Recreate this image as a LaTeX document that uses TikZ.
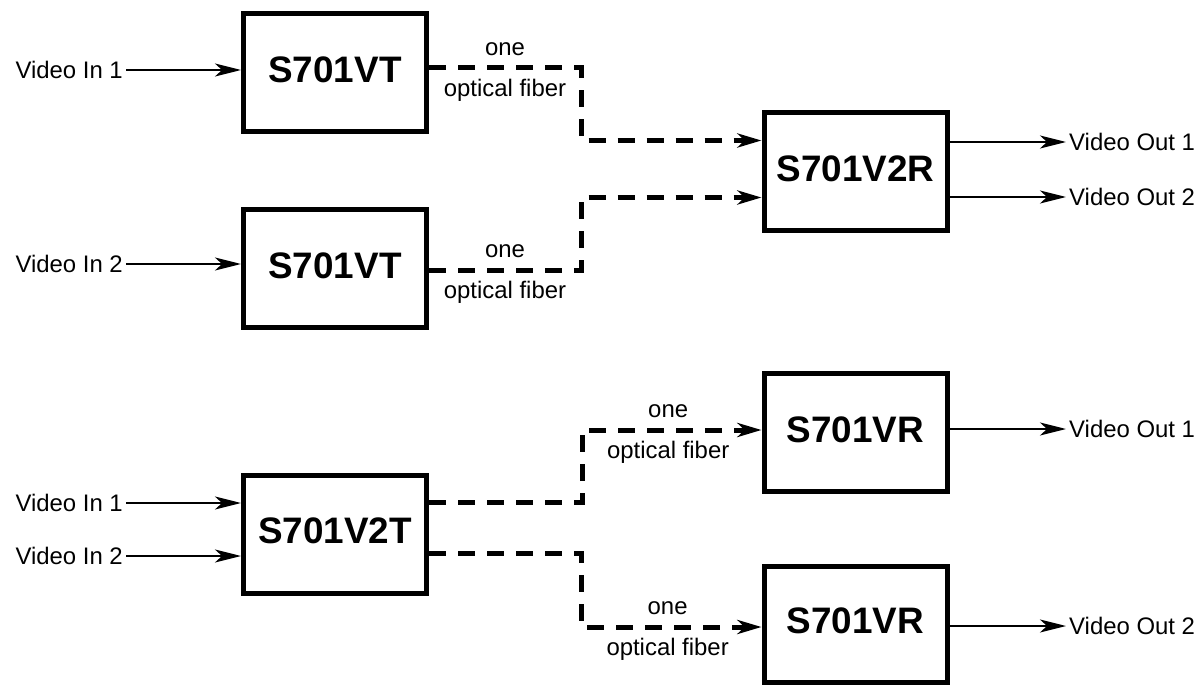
\documentclass[tikz,border=0pt]{standalone}
\usepackage{fontspec}
\setmainfont{Liberation Sans}
\usetikzlibrary{arrows.meta}
\begin{document}
\begin{tikzpicture}[x=1bp,y=-1bp,
  unit/.style={draw,line width=5bp,minimum width=183bp,minimum height=118bp,inner sep=0pt,
    font=\bfseries\fontsize{37}{37}\selectfont,text depth=6bp},
  lbl/.style={font=\fontsize{24}{24}\selectfont,inner sep=3bp},
  sig/.style={line width=2bp,-{Stealth[length=26bp,width=13bp,inset=7bp]}},
  fiber/.style={line width=5bp,dash pattern=on 17bp off 12bp,line join=miter,
    -{Stealth[length=24bp,width=14bp,inset=7bp]}},
  fone/.style={font=\fontsize{24}{24}\selectfont,inner sep=0pt,above=10bp},
  ffib/.style={font=\fontsize{24}{24}\selectfont,inner sep=0pt,below=9bp}]
\useasboundingbox (0,0) rectangle (1204,686);

% units
\node[unit] (vt1) at (335,73) {S701VT};
\node[unit] (vt2) at (335,268.5) {S701VT};
\node[unit] (v2r) at (855.5,171.5) {S701V2R};
\node[unit] (v2t) at (335,534) {S701V2T};
\node[unit] (vr1) at (855.5,432.5) {S701VR};
\node[unit,minimum height=116bp] (vr2) at (855.5,624) {S701VR};

% inputs
\node[lbl,anchor=east] (in1) at (126,70) {Video In 1};
\node[lbl,anchor=east] (in2) at (126,264) {Video In 2};
\node[lbl,anchor=east] (in3) at (126,503) {Video In 1};
\node[lbl,anchor=east] (in4) at (126,556) {Video In 2};
\draw[sig] (in1.east) -- (in1.east -| vt1.west);
\draw[sig] (in2.east) -- (in2.east -| vt2.west);
\draw[sig] (in3.east) -- (in3.east -| v2t.west);
\draw[sig] (in4.east) -- (in4.east -| v2t.west);

% outputs
\node[lbl,anchor=west] (out1) at (1066,142) {Video Out 1};
\node[lbl,anchor=west] (out2) at (1066,197) {Video Out 2};
\node[lbl,anchor=west] (out3) at (1066,429) {Video Out 1};
\node[lbl,anchor=west] (out4) at (1066,626) {Video Out 2};
\draw[sig] (out1.west -| v2r.east) -- (out1.west);
\draw[sig] (out2.west -| v2r.east) -- (out2.west);
\draw[sig] (out3.west -| vr1.east) -- (out3.west);
\draw[sig] (out4.west -| vr2.east) -- (out4.west);

% fibers
\draw[fiber] ([yshift=5bp]vt1.east) -- node[fone]{one} node[ffib]{optical fiber}
  ++(152,0) |- ([yshift=31bp]v2r.west);
\draw[fiber] ([yshift=-1.5bp]vt2.east) -- node[fone]{one} node[ffib]{optical fiber}
  ++(152,0) |- ([yshift=-26bp]v2r.west);
\draw[fiber] ([yshift=32bp]v2t.east) -- ++(153,0) |- node[pos=0.74,fone]{one}
  node[pos=0.74,ffib]{optical fiber} ([yshift=2.5bp]vr1.west);
\draw[fiber] ([yshift=-19bp]v2t.east) -- ++(152,0) |- node[pos=0.74,fone]{one}
  node[pos=0.74,ffib]{optical fiber} ([yshift=-3bp]vr2.west);
\end{tikzpicture}
\end{document}
